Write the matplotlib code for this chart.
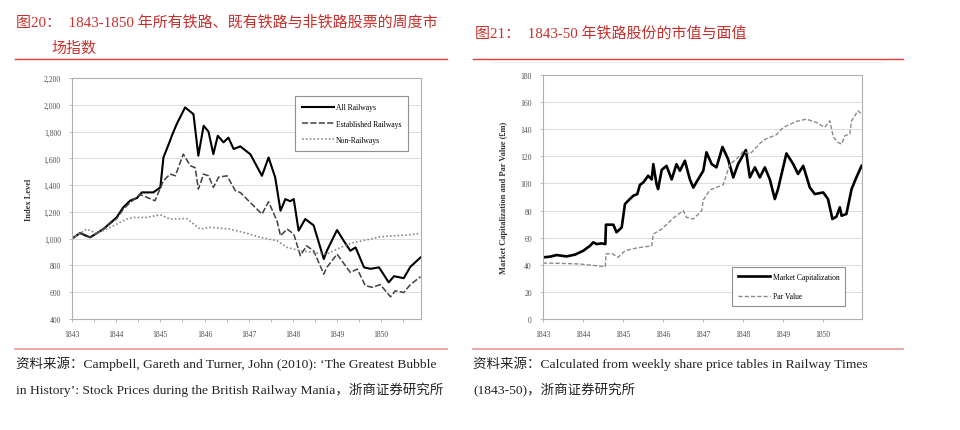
import matplotlib.pyplot as plt
from matplotlib.lines import Line2D
from matplotlib.ticker import FuncFormatter, MultipleLocator

plt.rcParams['font.family'] = ['Liberation Serif', 'Noto Sans CJK SC']

# Fig 20: weekly index levels
all_x = [1843.0, 1843.18, 1843.41, 1843.71, 1844.01, 1844.16, 1844.315, 1844.47, 1844.58, 1844.84,
         1845.0, 1845.07, 1845.22, 1845.26, 1845.37, 1845.56, 1845.75, 1845.86, 1845.98, 1846.09,
         1846.2, 1846.3, 1846.43, 1846.54, 1846.66, 1846.81, 1847.04, 1847.3, 1847.45, 1847.6,
         1847.72, 1847.83, 1847.94, 1848.02, 1848.13, 1848.28, 1848.47, 1848.7, 1848.77, 1849.0,
         1849.15, 1849.3, 1849.42, 1849.61, 1849.76, 1849.95, 1850.17, 1850.29, 1850.51, 1850.66, 1850.89]
all_y = [1000, 1042, 1010, 1072, 1159, 1234, 1284, 1304, 1346, 1346,
         1383, 1607, 1732, 1769, 1856, 1981, 1930, 1620, 1844, 1800,
         1632, 1769, 1720, 1755, 1670, 1690, 1630, 1470, 1607, 1458,
         1209, 1296, 1280, 1296, 1060, 1147, 1100, 848, 910, 1065,
         985, 910, 935, 786, 775, 786, 674, 720, 705, 790, 860]

est_x = [1843.0, 1843.18, 1843.41, 1843.71, 1844.01, 1844.16, 1844.315, 1844.54, 1844.88, 1845.07,
         1845.22, 1845.34, 1845.52, 1845.68, 1845.79, 1845.86, 1845.98, 1846.09, 1846.2, 1846.32,
         1846.51, 1846.7, 1846.81, 1847.07, 1847.3, 1847.45, 1847.64, 1847.72, 1847.87, 1848.02,
         1848.17, 1848.31, 1848.47, 1848.7, 1848.77, 1849.0, 1849.3, 1849.46, 1849.64, 1849.8,
         1849.98, 1850.21, 1850.32, 1850.51, 1850.66, 1850.89]
est_y = [1000, 1042, 1010, 1072, 1150, 1220, 1270, 1330, 1284, 1433,
         1483, 1470, 1632, 1545, 1530, 1371, 1483, 1470, 1383, 1460,
         1470, 1358, 1345, 1259, 1184, 1276, 1134, 1022, 1072, 1035,
         873, 947, 910, 736, 786, 885, 748, 773, 649, 637,
         657, 566, 611, 598, 657, 716]

non_x = [1843.0, 1843.33, 1843.56, 1843.79, 1844.24, 1844.39, 1844.69, 1845.0, 1845.22, 1845.6,
         1845.9, 1846.13, 1846.58, 1846.96, 1847.26, 1847.64, 1847.87, 1848.17, 1848.47, 1848.77,
         1849.08, 1849.38, 1849.76, 1849.98, 1850.29, 1850.59, 1850.89]
non_y = [1000, 1072, 1040, 1072, 1147, 1159, 1159, 1179, 1147, 1150,
         1072, 1085, 1072, 1040, 1010, 985, 935, 910, 897, 885,
         935, 972, 997, 1015, 1022, 1027, 1040]

# Fig 21: market capitalization and par value (GBP m)
mc_x = [1843.0, 1843.175, 1843.34, 1843.59, 1843.8, 1844.01, 1844.175, 1844.26, 1844.34, 1844.47,
        1844.56, 1844.575, 1844.76, 1844.84, 1844.97, 1845.05, 1845.13, 1845.26, 1845.36, 1845.425,
        1845.51, 1845.63, 1845.72, 1845.76, 1845.84, 1845.88, 1845.97, 1846.09, 1846.22, 1846.34,
        1846.425, 1846.55, 1846.675, 1846.76, 1846.88, 1847.01, 1847.09, 1847.22, 1847.34, 1847.49,
        1847.63, 1847.76, 1847.88, 1848.075, 1848.175, 1848.3, 1848.425, 1848.55, 1848.675, 1848.8,
        1848.88, 1849.09, 1849.26, 1849.38, 1849.51, 1849.675, 1849.8, 1850.01, 1850.13, 1850.24,
        1850.34, 1850.425, 1850.47, 1850.59, 1850.72, 1850.84, 1850.97]
mc_y = [45.5, 46, 47.2, 46.2, 47.5, 50.4, 54, 56.6, 55.3, 55.8,
        55.3, 69.6, 69.6, 64, 67.6, 84.8, 87.3, 91, 92.2, 99,
        100.8, 105.7, 103, 114.3, 99.6, 95.9, 110, 113, 103, 114.3,
        109.4, 116.8, 103, 97, 103, 109.4, 123, 114.3, 111.9, 127,
        118, 104.5, 114.3, 124.7, 104.5, 111.9, 104.5, 111.9, 103, 88.5,
        95.9, 122.2, 114.3, 107, 113, 97, 92.2, 93.4, 88.5, 73.8,
        75.5, 82.4, 76.2, 77.5, 95.9, 104.5, 113]

par_x = [1843.0, 1843.51, 1843.925, 1844.34, 1844.56, 1844.575, 1844.72, 1844.88, 1845.05, 1845.34,
         1845.72, 1845.76, 1845.97, 1846.26, 1846.51, 1846.59, 1846.76, 1846.97, 1847.01, 1847.175,
         1847.51, 1847.675, 1847.84, 1848.01, 1848.175, 1848.51, 1848.84, 1849.01, 1849.34, 1849.59,
         1849.84, 1850.05, 1850.175, 1850.26, 1850.38, 1850.47, 1850.55, 1850.675, 1850.72, 1850.88, 1850.97]
par_y = [41.3, 41, 40.6, 39.3, 38.6, 48, 48.4, 45.5, 50.4, 52.4,
         54, 62.7, 66.4, 74.5, 80, 75, 73.8, 80, 87.8, 95.2,
         99.1, 114.3, 118, 123.7, 121.7, 132, 136, 141.4, 145.8, 147.5,
         145, 141.4, 146.3, 134.5, 130.3, 129.1, 135.2, 136.5, 146.3, 153.7, 151.2]

years = list(range(1843, 1851))

title_l1 = '图20：  1843-1850 年所有铁路、既有铁路与非铁路股票的周度市'
title_l2 = '场指数'
title_r = '图21：  1843-50 年铁路股份的市值与面值'
src_l1 = '资料来源：Campbell, Gareth and Turner, John (2010): ‘The Greatest Bubble'
src_l2 = 'in History’: Stock Prices during the British Railway Mania，浙商证券研究所'
src_r1 = '资料来源：Calculated from weekly share price tables in Railway Times'
src_r2 = '(1843-50)，浙商证券研究所'

red = '#c8302c'
grey_spine = '#b0b0b0'
tick_col = '#505050'

fig = plt.figure(figsize=(9.6, 4.31), dpi=100)
ax1 = fig.add_axes([0.075, 0.2575, 0.3635, 0.559])
ax2 = fig.add_axes([0.5656, 0.2575, 0.3323, 0.566])


def style(ax):
    for s in ax.spines.values():
        s.set_color(grey_spine)
        s.set_linewidth(0.8)
    ax.yaxis.grid(True, color='#dcdcdc', linewidth=0.7)
    ax.set_axisbelow(True)
    ax.tick_params(axis='both', which='both', direction='out', length=2,
                   width=0.6, color=grey_spine, labelsize=5.5, labelcolor=tick_col, pad=6)


# left
ax1.plot(all_x, all_y, color='black', lw=1.5, label='All Railways')
ax1.plot(est_x, est_y, color='#404040', lw=1.1, ls=(0, (4, 1.5)), label='Established Railways')
ax1.plot(non_x, non_y, color='#8a8a8a', lw=1.2, ls=(0, (1, 1.3)), label='Non-Railways')
ax1.set_xlim(1843, 1850.9)
ax1.set_ylim(400, 2200)
ax1.yaxis.set_major_locator(MultipleLocator(200))
ax1.yaxis.set_major_formatter(FuncFormatter(lambda v, p: f'{int(v):,}'))
ax1.set_xticks(years)
ax1.xaxis.set_minor_locator(MultipleLocator(0.5))
style(ax1)
ax1.set_ylabel('Index Level', fontsize=6, fontweight='bold', color='#333333', labelpad=8)
leg1 = ax1.legend(loc='upper right', bbox_to_anchor=(0.975, 0.94), fontsize=5.5,
                  frameon=True, fancybox=False, edgecolor='#909090', framealpha=1,
                  handlelength=4.2, labelspacing=1.1, borderpad=0.9, handletextpad=0.3)
leg1.get_frame().set_linewidth(0.8)

# right
ax2.plot(mc_x, mc_y, color='black', lw=1.9, label='Market Capitalization')
ax2.plot(par_x, par_y, color='#8a8a8a', lw=1.0, ls=(0, (3, 1.5)), label='Par Value')
ax2.set_xlim(1843, 1850.98)
ax2.set_ylim(0, 180)
ax2.yaxis.set_major_locator(MultipleLocator(20))
ax2.set_xticks(years)
style(ax2)
ax2.set_ylabel('Market Capitalization and Par Value (£m)', fontsize=6, fontweight='bold',
               color='#333333', labelpad=9)
leg2 = ax2.legend(loc='upper right', bbox_to_anchor=(0.96, 0.23), fontsize=5.5,
                  frameon=True, fancybox=False, edgecolor='#909090', framealpha=1,
                  handlelength=4.2, labelspacing=1.5, borderpad=0.8, handletextpad=0.3)
leg2.get_frame().set_linewidth(0.8)

# titles and sources
fig.text(0.017, 0.948, title_l1, fontsize=10.8, color=red, va='center')
fig.text(0.054, 0.888, title_l2, fontsize=10.8, color=red, va='center')
fig.text(0.495, 0.923, title_r, fontsize=10.8, color=red, va='center')

fig.text(0.017, 0.155, src_l1, fontsize=9.7, color='#222222', va='center')
fig.text(0.017, 0.095, src_l2, fontsize=9.7, color='#222222', va='center')
fig.text(0.493, 0.155, src_r1, fontsize=9.7, color='#222222', va='center')
fig.text(0.493, 0.095, src_r2, fontsize=9.7, color='#222222', va='center')

for x0, x1 in [(0.0156, 0.4656), (0.4927, 0.9406)]:
    fig.add_artist(Line2D([x0, x1], [0.861, 0.861], color='#d9403a', lw=1.0))
    fig.add_artist(Line2D([x0, x1], [0.188, 0.188], color='#eb9a98', lw=1.2))
fig.add_artist(Line2D([0.5125, 0.92], [0.853, 0.853], color='#ececec', lw=0.8))

fig.savefig('out.png', dpi=100)
